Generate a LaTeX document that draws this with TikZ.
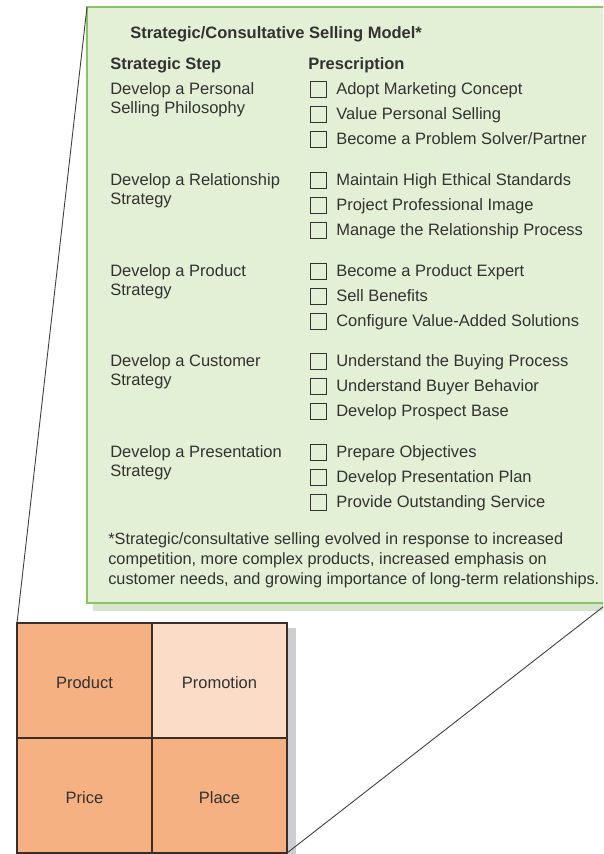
\documentclass[tikz,border=0pt]{standalone}
\usepackage{fontspec}
\setmainfont{Liberation Sans}
\usetikzlibrary{positioning,shadows}
\definecolor{modelfill}{RGB}{227,240,214}
\definecolor{modelline}{RGB}{135,196,104}
\definecolor{modelshadow}{RGB}{216,228,206}
\definecolor{pfour}{RGB}{246,177,131}
\definecolor{promofill}{RGB}{251,220,198}
\definecolor{cellline}{RGB}{60,45,40}
\definecolor{cellshadow}{RGB}{206,206,210}
\definecolor{textgray}{RGB}{50,50,50}

\begin{document}
\begin{tikzpicture}[x=1pt,y=-1pt,semithick,font=\fontsize{16.5}{19.5}\selectfont,text=textgray]
    \tikzstyle{model}=[draw=modelline,fill=modelfill,line width=1.2pt,outer sep=0pt,minimum width=521pt,minimum height=596pt,drop shadow={shadow xshift=6pt,shadow yshift=-8pt,fill=modelshadow,opacity=1}]
    \tikzstyle{cell}=[draw=cellline,fill=pfour,line width=1.2pt,outer sep=0pt,inner sep=0pt,text height=15pt,text depth=0pt,minimum width=135pt,minimum height=115pt,drop shadow={shadow xshift=9pt,shadow yshift=-5pt,fill=cellshadow,opacity=1}]
    \tikzstyle{head}=[inner sep=0pt,anchor=base west,font=\fontsize{16.5}{19.5}\selectfont\bfseries]
    \tikzstyle{stepname}=[inner sep=0pt,align=left,anchor=north west]
    \tikzstyle{item}=[inner sep=0pt,text height=12pt,text depth=3.5pt,anchor=base west]
    \tikzstyle{chk}=[draw=textgray,line width=1.1pt,inner sep=0pt,minimum size=16pt]
    \tikzstyle{link}=[draw=black!75,line width=0.9pt]

    \useasboundingbox (0,0) rectangle (603,854);
    \clip (0,0) rectangle (603,854);

    \node[model] (model) at (347.5,305) {};

    \node[head] (title)     at (130,38) {Strategic/Consultative Selling Model*};
    \node[head] (stephead)  at (110,69) {Strategic Step};
    \node[head] (preschead) at (308,69) {Prescription};

    \node[stepname] (s1) at (110,82.2)  {Develop a Personal\\Selling Philosophy};
    \node[stepname] (s2) at (110,173.2) {Develop a Relationship\\Strategy};
    \node[stepname] (s3) at (110,264.2) {Develop a Product\\Strategy};
    \node[stepname] (s4) at (110,354.2) {Develop a Customer\\Strategy};
    \node[stepname] (s5) at (110,445.2) {Develop a Presentation\\Strategy};

    \node[item] (p11) at (336,94)  {Adopt Marketing Concept};
    \node[item] (p12) at (336,119) {Value Personal Selling};
    \node[item] (p13) at (336,144) {Become a Problem Solver/Partner};
    \node[item] (p21) at (336,185) {Maintain High Ethical Standards};
    \node[item] (p22) at (336,210) {Project Professional Image};
    \node[item] (p23) at (336,235) {Manage the Relationship Process};
    \node[item] (p31) at (336,276) {Become a Product Expert};
    \node[item] (p32) at (336,301) {Sell Benefits};
    \node[item] (p33) at (336,326) {Configure Value-Added Solutions};
    \node[item] (p41) at (336,366) {Understand the Buying Process};
    \node[item] (p42) at (336,391) {Understand Buyer Behavior};
    \node[item] (p43) at (336,416) {Develop Prospect Base};
    \node[item] (p51) at (336,457) {Prepare Objectives};
    \node[item] (p52) at (336,482) {Develop Presentation Plan};
    \node[item] (p53) at (336,507) {Provide Outstanding Service};

    \node[chk] (c11) [left=9pt of p11] {};
    \node[chk] (c12) [left=9pt of p12] {};
    \node[chk] (c13) [left=9pt of p13] {};
    \node[chk] (c21) [left=9pt of p21] {};
    \node[chk] (c22) [left=9pt of p22] {};
    \node[chk] (c23) [left=9pt of p23] {};
    \node[chk] (c31) [left=9pt of p31] {};
    \node[chk] (c32) [left=9pt of p32] {};
    \node[chk] (c33) [left=9pt of p33] {};
    \node[chk] (c41) [left=9pt of p41] {};
    \node[chk] (c42) [left=9pt of p42] {};
    \node[chk] (c43) [left=9pt of p43] {};
    \node[chk] (c51) [left=9pt of p51] {};
    \node[chk] (c52) [left=9pt of p52] {};
    \node[chk] (c53) [left=9pt of p53] {};

    \node[stepname,font=\fontsize{16.3}{20}\selectfont] (note) at (108,532)
        {*Strategic/consultative selling evolved in response to increased\\competition, more complex products, increased emphasis on\\customer needs, and growing importance of long-term relationships.};

    \node[cell]                (product)   at (84.5,680.5)       {Product};
    \node[cell,fill=promofill] (promotion) [right=0pt of product] {Promotion};
    \node[cell]                (price)     [below=0pt of product] {Price};
    \node[cell]                (place)     [right=0pt of price]   {Place};

    \path[link] (product.north west) -- (model.north west);
    \path[link] (place.south east) -- (model.south east);
\end{tikzpicture}
\end{document}
